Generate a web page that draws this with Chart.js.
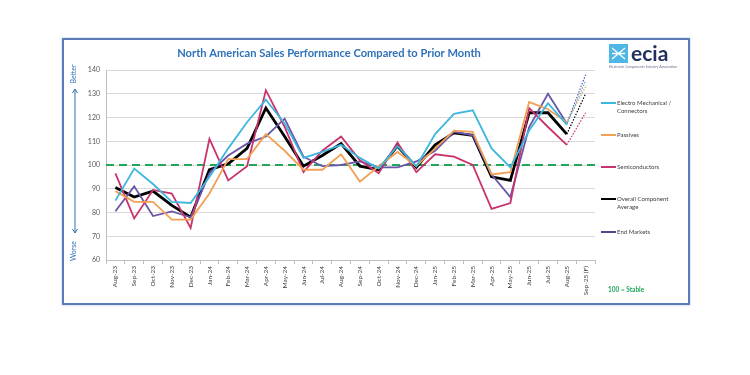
<!DOCTYPE html>
<html>
<head>
<meta charset="utf-8">
<script src="https://cdn.jsdelivr.net/npm/chart.js@4.4.0/dist/chart.umd.min.js"></script>
<style>
  html, body { margin: 0; padding: 0; background: #fff; }
  #wrap { position: relative; width: 750px; height: 375px; }
  #frame { position: absolute; left: 62px; top: 38px; width: 624px; height: 263px;
           border: 2px solid #5b7cba; box-shadow: 0 0 2px #a9bde0; }
  canvas { position: absolute; left: 0; top: 0; }
</style>
</head>
<body>
<div id="wrap">
  <div id="frame"></div>
  <canvas id="c" width="750" height="375"></canvas>
</div>
<script>
// months on the x axis (last one is forecast)
const months = ['Aug-23','Sep-23','Oct-23','Nov-23','Dec-23','Jan-24','Feb-24','Mar-24','Apr-24','May-24',
  'Jun-24','Jul-24','Aug-24','Sep-24','Oct-24','Nov-24','Dec-24','Jan-25','Feb-25','Mar-25','Apr-25',
  'May-25','Jun-25','Jul-25','Aug-25','Sep-25 (F)'];

const electroMech = [85, 98.5, 92, 84.5, 84, 95, 107, 118, 127.5, 117.5, 103, 105.5, 108.5, 103, 98.5, 108, 99.5, 113, 121.5, 123, 107, 99, 114.5, 126, 117, 135.5];
const passives    = [89, 84.5, 84.5, 77, 77, 88, 102.5, 102.5, 113, 106, 98, 98, 104.5, 93, 99.5, 105.5, 99.5, 107, 114.5, 114, 96, 97, 126.5, 123.5, 118, 133];
const semis       = [96.5, 77.5, 89.5, 88, 73.5, 111, 93.5, 99.5, 131.5, 116, 97, 106, 112, 102, 96.5, 109.5, 97, 104.5, 103.5, 100, 81.5, 84, 124, 116, 108.5, 122];
const overall     = [90.5, 86.5, 89, 83, 78, 98, 100.5, 107, 124, 112, 99.5, 104, 109, 99.5, 98, 108, 99, 108.5, 113.5, 112.5, 95, 93.5, 122, 122, 113, 130];
const endMarkets  = [80.5, 91, 78.5, 80.5, 78, 96.5, 104, 109, 112, 119.5, 103.5, 99.5, 100, 101.5, 99, 99, 101.5, 106, 114, 112.5, 96, 86.5, 116, 130, 117.5, 138];

const STABLE = 100;
const yTicks = [60, 70, 80, 90, 100, 110, 120, 130, 140];

const FC = months.length - 1; // forecast index

function series(label, data, color, width) {
  return {
    label, data,
    borderColor: color,
    backgroundColor: color,
    borderWidth: width,
    pointRadius: 0,
    tension: 0,
    fill: false,
    segment: {
      borderDash: c => c.p1DataIndex === FC ? [1.5, 1.5] : undefined,
      borderWidth: c => c.p1DataIndex === FC ? 1.2 : width
    }
  };
}

const datasets = [
  series('Electro Mechanical / Connectors', electroMech, '#3db7dd', 1.8),
  series('Passives', passives, '#f2a055', 1.8),
  series('Semiconductors', semis, '#c8336f', 1.8),
  series('End Markets', endMarkets, '#6a55a8', 1.8),
  series('Overall Component Average', overall, '#000000', 2.8)
];

// legend entries drawn at the right, as in the original sheet
const legendItems = [
  { lines: ['Electro Mechanical /', 'Connectors'], color: '#3db7dd', y: 103 },
  { lines: ['Passives'], color: '#f2a055', y: 135 },
  { lines: ['Semiconductors'], color: '#c8336f', y: 167 },
  { lines: ['Overall Component', 'Average'], color: '#000000', y: 199 },
  { lines: ['End Markets'], color: '#4a4a8c', y: 232 }
];

const decor = {
  id: 'decor',
  beforeDatasetsDraw(chart) {
    const { ctx, chartArea: a, scales: { y } } = chart;
    const yy = y.getPixelForValue(STABLE);
    ctx.save();
    ctx.strokeStyle = '#22a45a';
    ctx.lineWidth = 2;
    ctx.setLineDash([8, 5]);
    ctx.beginPath();
    ctx.moveTo(a.left, yy);
    ctx.lineTo(a.right, yy);
    ctx.stroke();
    ctx.restore();
  },
  afterDraw(chart) {
    const ctx = chart.ctx;
    ctx.save();

    // title
    const title = 'North American Sales Performance Compared to Prior Month';
    ctx.font = 'bold 12px Lato';
    const tw = ctx.measureText(title).width;
    const fs = 12 * 304 / tw;
    ctx.font = 'bold ' + fs.toFixed(2) + 'px Lato';
    ctx.fillStyle = '#2f72b8';
    ctx.textAlign = 'center';
    ctx.textBaseline = 'middle';
    ctx.fillText(title, 329, 53);

    // Better / Worse arrow
    ctx.fillStyle = '#2f72b8';
    ctx.strokeStyle = '#2f72b8';
    ctx.font = '7px Lato';
    ctx.save();
    ctx.translate(74, 74);
    ctx.rotate(-Math.PI / 2);
    ctx.fillText('Better', 0, 0);
    ctx.restore();
    ctx.save();
    ctx.translate(74, 251);
    ctx.rotate(-Math.PI / 2);
    ctx.fillText('Worse', 0, 0);
    ctx.restore();
    ctx.lineWidth = 1;
    ctx.beginPath();
    ctx.moveTo(75, 89); ctx.lineTo(75, 233);
    ctx.moveTo(72.5, 93); ctx.lineTo(75, 89); ctx.lineTo(77.5, 93);
    ctx.moveTo(72.5, 229); ctx.lineTo(75, 233); ctx.lineTo(77.5, 229);
    ctx.stroke();

    // legend
    ctx.textAlign = 'left';
    ctx.font = '6px Lato';
    legendItems.forEach(it => {
      ctx.strokeStyle = it.color;
      ctx.lineWidth = 2;
      ctx.beginPath();
      ctx.moveTo(601, it.y); ctx.lineTo(616, it.y);
      ctx.stroke();
      ctx.fillStyle = '#404040';
      it.lines.forEach((t, i) => ctx.fillText(t, 617, it.y + i * 8));
    });

    // 100 = Stable
    ctx.fillStyle = '#22a45a';
    ctx.font = 'bold 6.5px Lato';
    ctx.fillText('100 = Stable', 608, 290);

    // ecia logo
    ctx.fillStyle = '#4fb6e6';
    ctx.fillRect(609, 44, 19, 19);
    ctx.strokeStyle = '#ffffff';
    ctx.lineWidth = 1.3;
    ctx.beginPath();
    ctx.moveTo(612, 48); ctx.lineTo(618.5, 53.5); ctx.lineTo(625, 48);
    ctx.moveTo(612, 59); ctx.lineTo(618.5, 53.5); ctx.lineTo(625, 59);
    ctx.moveTo(612, 53.5); ctx.lineTo(625, 53.5);
    ctx.stroke();
    ctx.fillStyle = '#22305e';
    ctx.font = 'bold 21px Lato';
    ctx.textBaseline = 'alphabetic';
    ctx.fillText('ecia', 631, 61);
    ctx.fillStyle = '#6a7090';
    ctx.font = '3.5px Lato';
    ctx.fillText('Electronic Components Industry Association', 609, 68);

    ctx.restore();
  }
};

new Chart(document.getElementById('c').getContext('2d'), {
  type: 'line',
  data: { labels: months, datasets },
  options: {
    responsive: false,
    animation: false,
    devicePixelRatio: 1,
    layout: { padding: { left: 70, right: 155, top: 70, bottom: 75 } },
    plugins: {
      legend: { display: false },
      tooltip: { enabled: false },
      title: { display: false }
    },
    scales: {
      x: {
        offset: true,
        afterFit: s => { s.height = 40; },
        grid: { display: true, drawOnChartArea: false, offset: true, tickLength: 4, color: '#bfbfbf' },
        border: { color: '#bfbfbf' },
        ticks: {
          autoSkip: false, minRotation: 90, maxRotation: 90, padding: 2,
          color: '#404040', font: { family: 'Lato', size: 6.5 }
        }
      },
      y: {
        min: 60, max: 140,
        afterFit: s => { s.width = 36; },
        afterBuildTicks: s => { s.ticks = yTicks.map(v => ({ value: v })); },
        grid: { color: '#d9d9d9', drawTicks: false },
        border: { color: '#bfbfbf' },
        ticks: { padding: 6, color: '#595959', font: { family: 'Lato', size: 7 } }
      }
    }
  },
  plugins: [decor]
});
</script>
</body>
</html>
